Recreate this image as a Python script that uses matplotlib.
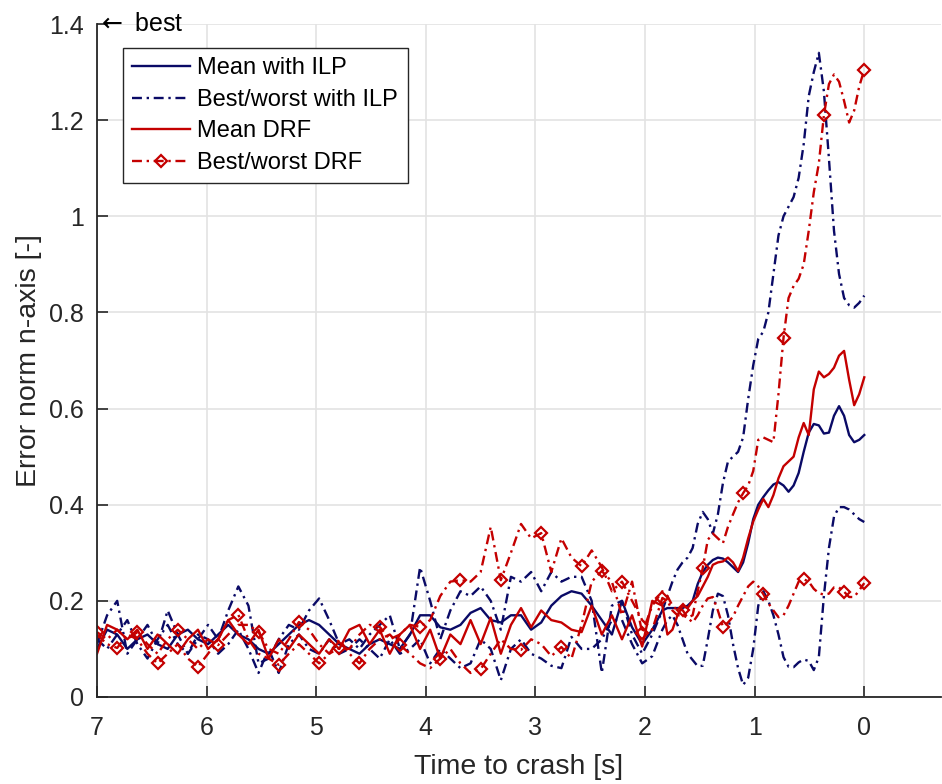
import numpy as np
import matplotlib
matplotlib.use("Agg")
import matplotlib.pyplot as plt

plt.rcParams['font.family'] = ['Liberation Sans', 'DejaVu Sans']

# Time to crash [s]: 7 s .. 1.84 s at 7/76 s spacing, then finer (7/152 s) to 0 s
t_split = 7.0 * 20 / 76
time_to_crash = np.concatenate([np.linspace(7.0, t_split, 57),
                                np.linspace(t_split, 0.0, 41)[1:]])

mean_ilp = [
    0.10, 0.14, 0.13, 0.10, 0.12, 0.13, 0.11, 0.10, 0.13, 0.14,
    0.12, 0.11, 0.13, 0.15, 0.13, 0.12, 0.10, 0.09, 0.11, 0.13,
    0.15, 0.16, 0.15, 0.13, 0.11, 0.10, 0.09, 0.11, 0.12, 0.11,
    0.10, 0.13, 0.17, 0.17, 0.145, 0.14, 0.15, 0.175, 0.185, 0.16,
    0.155, 0.17, 0.17, 0.14, 0.155, 0.19, 0.21, 0.22, 0.215, 0.19,
    0.16, 0.13, 0.20, 0.145, 0.11, 0.14, 0.18,
    0.185, 0.185, 0.185, 0.185, 0.19, 0.20, 0.235, 0.26, 0.275, 0.285,
    0.29, 0.288, 0.28, 0.27, 0.26, 0.28, 0.32, 0.37, 0.40, 0.416,
    0.43, 0.442, 0.447, 0.44, 0.427, 0.44, 0.466, 0.51, 0.55, 0.568,
    0.565, 0.548, 0.55, 0.585, 0.605, 0.585, 0.545, 0.53, 0.535, 0.545,
]

worst_ilp = [
    0.11, 0.17, 0.20, 0.09, 0.12, 0.15, 0.11, 0.18, 0.13, 0.09,
    0.12, 0.15, 0.12, 0.18, 0.23, 0.19, 0.07, 0.08, 0.12, 0.15,
    0.14, 0.18, 0.205, 0.16, 0.11, 0.12, 0.10, 0.13, 0.15, 0.17,
    0.10, 0.13, 0.27, 0.20, 0.12, 0.18, 0.22, 0.21, 0.23, 0.20,
    0.14, 0.25, 0.24, 0.26, 0.22, 0.26, 0.24, 0.25, 0.25, 0.20,
    0.05, 0.19, 0.20, 0.13, 0.09, 0.13, 0.18,
    0.21, 0.24, 0.265, 0.28, 0.29, 0.31, 0.36, 0.385, 0.37, 0.34,
    0.38, 0.445, 0.49, 0.50, 0.51, 0.54, 0.62, 0.69, 0.745, 0.76,
    0.80, 0.88, 0.96, 1.00, 1.02, 1.04, 1.08, 1.15, 1.25, 1.30,
    1.34, 1.26, 1.12, 0.97, 0.88, 0.83, 0.815, 0.81, 0.82, 0.835,
]

best_ilp = [
    0.12, 0.10, 0.13, 0.16, 0.11, 0.08, 0.12, 0.15, 0.11, 0.09,
    0.13, 0.12, 0.09, 0.11, 0.14, 0.10, 0.05, 0.10, 0.05, 0.11,
    0.13, 0.10, 0.09, 0.12, 0.09, 0.10, 0.12, 0.10, 0.08, 0.12,
    0.09, 0.10, 0.12, 0.07, 0.10, 0.08, 0.06, 0.07, 0.12, 0.10,
    0.035, 0.10, 0.12, 0.09, 0.08, 0.065, 0.06, 0.125, 0.10, 0.10,
    0.12, 0.16, 0.16, 0.11, 0.07, 0.085, 0.14,
    0.16, 0.17, 0.15, 0.12, 0.09, 0.077, 0.064, 0.065, 0.12, 0.18,
    0.215, 0.21, 0.17, 0.11, 0.06, 0.025, 0.04, 0.10, 0.19, 0.22,
    0.20, 0.17, 0.13, 0.083, 0.063, 0.062, 0.072, 0.078, 0.075, 0.056,
    0.083, 0.21, 0.31, 0.375, 0.395, 0.395, 0.39, 0.38, 0.37, 0.364,
]

mean_drf = [
    0.09, 0.15, 0.14, 0.12, 0.14, 0.10, 0.13, 0.11, 0.09, 0.12,
    0.14, 0.10, 0.12, 0.16, 0.13, 0.11, 0.14, 0.08, 0.12, 0.10,
    0.13, 0.11, 0.09, 0.12, 0.10, 0.14, 0.15, 0.11, 0.14, 0.09,
    0.13, 0.15, 0.10, 0.14, 0.08, 0.13, 0.11, 0.16, 0.11, 0.165,
    0.09, 0.15, 0.185, 0.145, 0.18, 0.16, 0.155, 0.14, 0.135, 0.19,
    0.13, 0.17, 0.12, 0.17, 0.105, 0.20, 0.19,
    0.13, 0.14, 0.17, 0.19, 0.185, 0.20, 0.21, 0.23, 0.25, 0.275,
    0.28, 0.282, 0.29, 0.28, 0.262, 0.29, 0.33, 0.365, 0.39, 0.412,
    0.395, 0.42, 0.455, 0.48, 0.49, 0.50, 0.54, 0.57, 0.545, 0.64,
    0.677, 0.665, 0.672, 0.685, 0.71, 0.72, 0.66, 0.607, 0.63, 0.665,
]

worst_drf = [
    0.135, 0.12, 0.14, 0.12, 0.135, 0.11, 0.09, 0.12, 0.14, 0.12,
    0.10, 0.12, 0.108, 0.13, 0.15, 0.15, 0.135, 0.10, 0.09, 0.12,
    0.156, 0.14, 0.11, 0.09, 0.102, 0.10, 0.13, 0.15, 0.146, 0.12,
    0.13, 0.15, 0.146, 0.16, 0.21, 0.24, 0.243, 0.24, 0.26, 0.354,
    0.243, 0.30, 0.36, 0.33, 0.341, 0.26, 0.33, 0.29, 0.272, 0.305,
    0.27, 0.22, 0.24, 0.20, 0.16, 0.14, 0.206,
    0.20, 0.18, 0.17, 0.17, 0.165, 0.17, 0.22, 0.268, 0.327, 0.34,
    0.33, 0.32, 0.354, 0.38, 0.405, 0.424, 0.44, 0.47, 0.535, 0.54,
    0.535, 0.53, 0.63, 0.747, 0.83, 0.855, 0.87, 0.90, 0.97, 1.05,
    1.11, 1.21, 1.275, 1.295, 1.28, 1.24, 1.195, 1.22, 1.27, 1.305,
]

best_drf = [
    0.13, 0.11, 0.102, 0.13, 0.12, 0.09, 0.07, 0.09, 0.11, 0.08,
    0.063, 0.09, 0.12, 0.16, 0.171, 0.12, 0.09, 0.08, 0.067, 0.09,
    0.11, 0.09, 0.07, 0.09, 0.12, 0.09, 0.07, 0.10, 0.12, 0.13,
    0.108, 0.09, 0.07, 0.06, 0.08, 0.10, 0.07, 0.05, 0.058, 0.09,
    0.12, 0.10, 0.098, 0.12, 0.11, 0.085, 0.104, 0.08, 0.15, 0.24,
    0.262, 0.24, 0.17, 0.24, 0.133, 0.19, 0.22,
    0.21, 0.19, 0.18, 0.181, 0.165, 0.155, 0.17, 0.19, 0.205, 0.208,
    0.18, 0.146, 0.155, 0.167, 0.19, 0.21, 0.23, 0.24, 0.23, 0.214,
    0.195, 0.18, 0.166, 0.17, 0.19, 0.215, 0.24, 0.245, 0.24, 0.225,
    0.216, 0.213, 0.215, 0.228, 0.228, 0.219, 0.208, 0.208, 0.222, 0.237,
]

x_ticks = [7, 6, 5, 4, 3, 2, 1, 0]
y_ticks = [0, 0.2, 0.4, 0.6, 0.8, 1.0, 1.2, 1.4]
y_tick_labels = ["0", "0.2", "0.4", "0.6", "0.8", "1", "1.2", "1.4"]

# Diamond markers every 7/19 s; the two DRF runs are marked half a step apart
worst_marks = list(range(0, 57, 4)) + list(range(64, 97, 8))
best_marks = list(range(2, 57, 4)) + list(range(60, 97, 8)) + [96]

navy = "#0a0a66"
red = "#c40000"
axis_grey = "#262626"
dashdot = (0, (4.2, 2.0, 1.0, 2.0))
lw = 1.7
mk = dict(marker="D", markersize=6, markerfacecolor="none", markeredgewidth=1.6)

fig = plt.figure(figsize=(9.42, 7.84), dpi=100)
ax = fig.add_axes([97 / 942, 1 - 697 / 784, (941 - 97) / 942, (697 - 24) / 784])

ax.plot(time_to_crash, mean_ilp, color=navy, lw=lw, label="Mean with ILP")
ax.plot(time_to_crash, worst_ilp, color=navy, lw=lw, linestyle=dashdot,
        label="Best/worst with ILP")
ax.plot(time_to_crash, best_ilp, color=navy, lw=lw, linestyle=dashdot)
ax.plot(time_to_crash, mean_drf, color=red, lw=lw, label="Mean DRF")
ax.plot(time_to_crash, worst_drf, color=red, lw=lw, linestyle=dashdot,
        markevery=worst_marks, label="Best/worst DRF", **mk)
ax.plot(time_to_crash, best_drf, color=red, lw=lw, linestyle=dashdot,
        markevery=best_marks, **mk)

ax.set_xlim(7, -0.7)
ax.set_ylim(0, 1.4)
ax.set_xticks(x_ticks)
ax.set_xticklabels([str(v) for v in x_ticks])
ax.set_yticks(y_ticks)
ax.set_yticklabels(y_tick_labels)

ax.grid(True, color="#e3e3e3", linewidth=1.2)
ax.set_axisbelow(True)
for side in ("top", "right"):
    ax.spines[side].set_visible(False)
for side in ("left", "bottom"):
    ax.spines[side].set_color(axis_grey)
    ax.spines[side].set_linewidth(1.3)
ax.tick_params(direction="in", length=8, width=1.2, colors=axis_grey,
               labelsize=18, labelcolor=axis_grey)
ax.tick_params(axis="x", pad=14)
ax.tick_params(axis="y", pad=9.5)

ax.set_xlabel("Time to crash [s]", fontsize=20.5, color=axis_grey, labelpad=10)
ax.set_ylabel("Error norm n-axis [-]", fontsize=20.5, color=axis_grey, labelpad=5)

ax.text(7, 1.4, r"$\leftarrow$ best", fontsize=18, va="center", ha="left",
        color="black", clip_on=False)

leg = ax.legend(loc="upper left", bbox_to_anchor=((123 - 97) / 844, (697 - 48) / 673),
                borderaxespad=0, fontsize=17, fancybox=False, framealpha=1,
                edgecolor=axis_grey, handlelength=2.45, labelspacing=0.4,
                borderpad=0.4, handletextpad=0.3)
leg.get_frame().set_linewidth(1.0)

fig.savefig("out.png", dpi=100, facecolor="white")
